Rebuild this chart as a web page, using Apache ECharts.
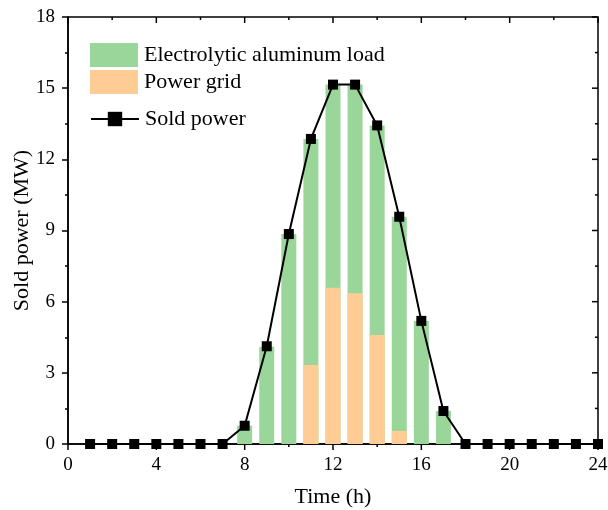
<!DOCTYPE html>
<html><head><meta charset="utf-8">
<script src="https://cdn.jsdelivr.net/npm/echarts@6/dist/echarts.min.js"></script>
<style>html,body{margin:0;padding:0;background:#fff}#c{width:608px;height:510px}</style>
</head><body><div id="c"></div>
<script>
var hours = [1,2,3,4,5,6,7,8,9,10,11,12,13,14,15,16,17,18,19,20,21,22,23,24];
var gridPower = [0,0,0,0,0,0,0,0,0,0,3.33,6.59,6.35,4.6,0.55,0,0,0,0,0,0,0,0,0];
var aluLoad = [0,0,0,0,0,0,0,0.77,4.1,8.85,9.53,8.56,8.8,8.83,9.03,5.19,1.39,0,0,0,0,0,0,0];
var soldPower = [0,0,0,0,0,0,0,0.77,4.12,8.85,12.86,15.15,15.15,13.43,9.58,5.19,1.39,0,0,0,0,0,0,0];
var xTicks = [0,4,8,12,16,20,24];
var xMinorTicks = [2,6,10,14,18,22];
var yTicks = [0,3,6,9,12,15,18];
var yMinorTicks = [1.5,4.5,7.5,10.5,13.5,16.5];

function pairs(v){ return hours.map(function(h,i){ return [h, v[i]]; }); }
var aluTop = hours.map(function(h,i){ return [h, +(gridPower[i] + aluLoad[i]).toFixed(2)]; });
var X0 = xTicks[0], X1 = xTicks[xTicks.length-1], Y0 = yTicks[0], Y1 = yTicks[yTicks.length-1];
var FONT = 'Liberation Serif';
var chart = echarts.init(document.getElementById('c'), null, {renderer:'canvas'});
function axLine(){ return {show:true, onZero:false, lineStyle:{color:'#000', width:1.5}}; }
function tick(inside){ return {show:true, inside:inside, length:6, lineStyle:{color:'#000', width:1.5}}; }
function minor(){ return {show:true, splitNumber:2, length:3, lineStyle:{color:'#000', width:1.5}}; }
chart.setOption({
  animation:false,
  backgroundColor:'#fff',
  textStyle:{fontFamily:FONT},
  grid:{left:68, right:10, top:17, bottom:66, containLabel:false, outerBoundsMode:'none',
        show:true, borderColor:'#000', borderWidth:1.5, backgroundColor:'transparent'},
  legend:[{
    left:85, top:38, orient:'vertical', itemWidth:48, itemHeight:24, itemGap:3, icon:'rect',
    data:['Electrolytic aluminum load','Power grid'],
    textStyle:{fontFamily:FONT, fontSize:22, color:'#000', padding:[0,0,0,1]}
  },{
    left:85, top:103, orient:'vertical', itemWidth:48, itemHeight:18,
    data:['Sold power'],
    textStyle:{fontFamily:FONT, fontSize:22, color:'#000', padding:[0,0,0,1]}
  }],
  xAxis:[{
    type:'value', min:X0, max:X1, interval:4, position:'bottom',
    name:'Time (h)', nameLocation:'middle', nameGap:42, nameMoveOverlap:false,
    nameTextStyle:{fontFamily:FONT, fontSize:22, color:'#000'},
    axisLine:axLine(), axisTick:{show:false},
    axisLabel:{fontFamily:FONT, fontSize:19, color:'#000', margin:12},
    splitLine:{show:false}
  }],
  yAxis:[{
    type:'value', min:Y0, max:Y1, interval:3, position:'left',
    name:'Sold power (MW)', nameLocation:'middle', nameGap:35, nameMoveOverlap:false,
    nameTextStyle:{fontFamily:FONT, fontSize:22, color:'#000'},
    axisLine:axLine(), axisTick:tick(false), minorTick:minor(),
    axisLabel:{fontFamily:FONT, fontSize:19, color:'#000', margin:13},
    splitLine:{show:false}
  }],
  series:[{
    name:'Electrolytic aluminum load', type:'bar',
    barWidth:15, barGap:'-100%', itemStyle:{color:'#9AD59A'}, data:aluTop, z:2
  },{
    name:'Power grid', type:'bar',
    barWidth:15, barGap:'-100%', itemStyle:{color:'#FFCC96'}, data:pairs(gridPower), z:3
  },{
    name:'Sold power', type:'line',
    symbol:'rect', symbolSize:10, clip:false,
    lineStyle:{color:'#000', width:2}, itemStyle:{color:'#000'},
    data:pairs(soldPower), z:5
  }]
});

// tick marks for bottom (outward), top (inward) and right (inward) axes, placed via the chart's own scales
var tickEls = [];
var msg = '';
function px(x, y){
  var p = chart.convertToPixel({xAxisIndex:0, yAxisIndex:0}, [x, y]);
  if (!p || isNaN(p[0])) { p = chart.convertToPixel({seriesIndex:0}, [x, y]); }
  return p;
}
function addRect(x, y, w, h){
  tickEls.push({type:'rect', z:100, silent:true, shape:{x:x, y:y, width:w, height:h}, style:{fill:'#000'}});
}
try {
  xTicks.concat(xMinorTicks).forEach(function(v){
    var len = xTicks.indexOf(v) >= 0 ? 6 : 3;
    var b = px(v, Y0), t = px(v, Y1);
    addRect(b[0]-0.75, b[1], 1.5, len);
    addRect(t[0]-0.75, t[1], 1.5, len);
  });
  yTicks.concat(yMinorTicks).forEach(function(v){
    var len = yTicks.indexOf(v) >= 0 ? 6 : 3;
    var r = px(X1, v);
    addRect(r[0]-len, r[1]-0.75, len, 1.5);
  });
} catch (e) { msg = String(e); }
var g = [{type:'group', z:100, children:tickEls}];
if (msg) g.push({type:'text', left:200, top:492, z:100, style:{text:msg, fontSize:10, fill:'#c00'}});
chart.setOption({graphic:g});
</script></body></html>
